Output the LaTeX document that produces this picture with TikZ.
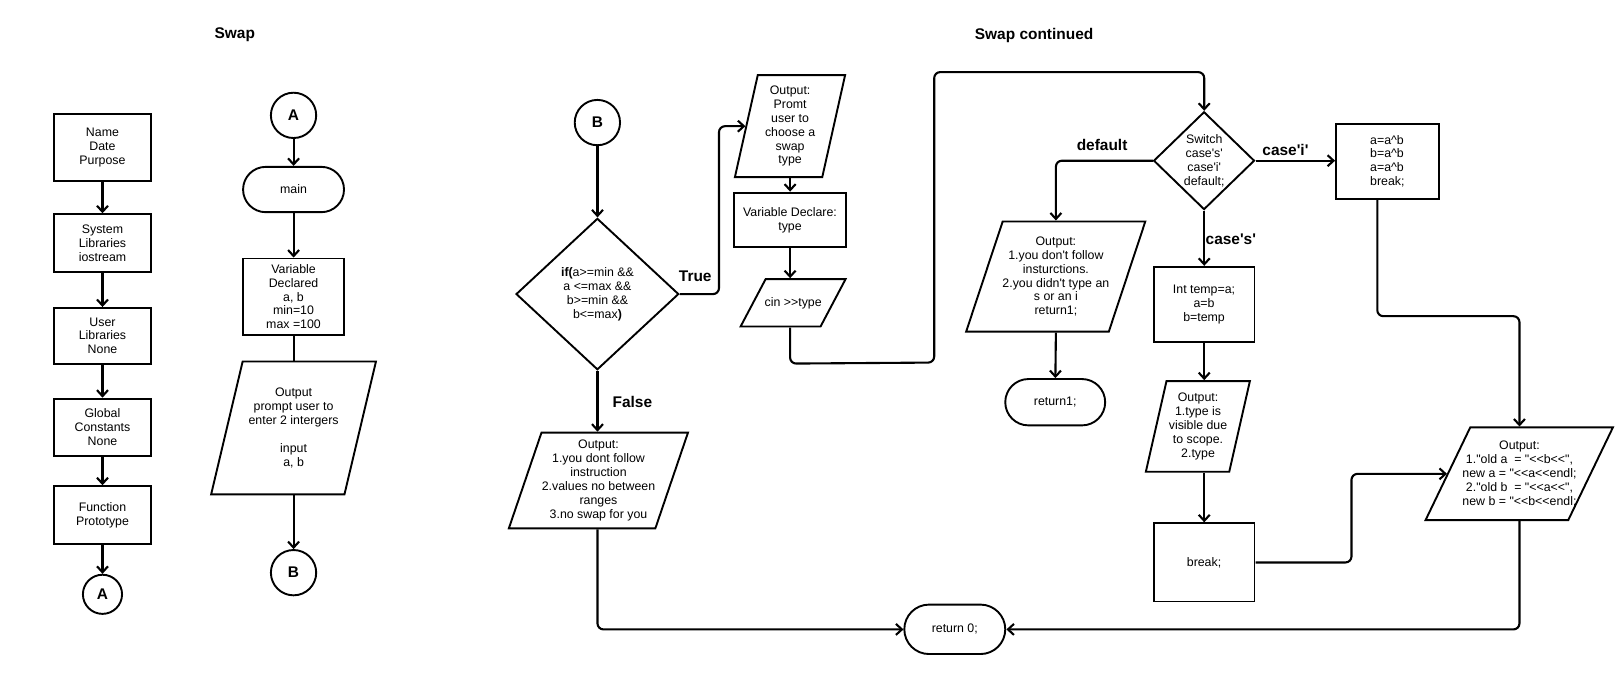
\documentclass[tikz,border=0pt]{standalone}
\usepackage{fontspec}
\newfontfamily\lsans{Liberation Sans}
\usetikzlibrary{shapes.geometric,shapes.misc,arrows.meta,calc}
\begin{document}
\begin{tikzpicture}[x=1pt,y=-1pt,scale=1.03,transform shape,
  txt/.style={font=\lsans\fontsize{12}{13.5}\selectfont, align=center, inner sep=0pt},
  lbl/.style={font=\lsans\bfseries\fontsize{15}{17}\selectfont, inner sep=0pt},
  box/.style={draw, line width=1.9pt, rectangle, inner sep=2pt, txt},
  term/.style={draw, line width=1.9pt, rounded rectangle, inner sep=2pt, txt},
  con/.style={draw, circle, line width=1.9pt, minimum size=44pt, inner sep=0pt, font=\lsans\bfseries\fontsize{15}{17}\selectfont},
  io/.style={draw, line width=1.9pt, trapezium, trapezium stretches=true, inner sep=2pt},
  dec/.style={draw, line width=1.9pt, diamond, inner sep=2pt},
  conn/.style={line width=2.1pt, rounded corners=6pt},
  arr/.style={conn, -{Straight Barb[length=6pt,width=11pt]}},
]
\useasboundingbox[fill=white] (0,0) rectangle (1568,655.3);

% ---- column 1
\node[box, minimum width=95pt, minimum height=65pt] (b1) at (99.5,143.5) {Name\\Date\\Purpose};
\node[box, minimum width=95pt, minimum height=56pt] (b2) at (99.5,236) {System\\Libraries\\iostream};
\node[box, minimum width=95pt, minimum height=54pt] (b3) at (99.5,326) {User\\Libraries\\None};
\node[box, minimum width=95pt, minimum height=56pt] (b4) at (99.5,415) {Global\\Constants\\None};
\node[box, minimum width=95pt, minimum height=56pt] (b5) at (99.5,500) {Function\\Prototype};
\node[con, minimum size=38pt] (a1) at (99.5,577) {A};

% ---- column 2
\node[lbl] (t1) at (228,34) {Swap};
\node[con] (a2) at (285,112) {A};
\node[term, minimum width=98pt, minimum height=44pt] (mn) at (285,184) {main};
\node[box, minimum width=98pt, minimum height=74pt] (vr) at (285,288) {Variable\\Declared\\a, b\\min=10\\max =100};
\node[io, trapezium left angle=72.8, trapezium right angle=107.2, minimum width=160pt, minimum height=129pt] (p1) at (285,415.5) {};
\node[txt] (p1t) at (p1) {Output\\prompt user to\\enter 2 intergers\\[13.5pt]input\\a, b};
\node[con] (bb) at (285,556) {B};

% ---- column 3
\node[lbl] (t2) at (1004,34) {Swap continued};
\node[con] (bc) at (580,119) {B};
\node[dec, minimum width=158pt, minimum height=147pt] (d1) at (580,285.5) {};
\node[txt] (d1t) at (d1) {\textbf{if(}a>=min \&\&\\a <=max \&\&\\b>=min \&\&\\b<=max\textbf{)}};
\node[io, trapezium left angle=74, trapezium right angle=106, minimum width=174pt, minimum height=93pt] (fa) at (581,466.5) {};
\node[txt] (fat) at (fa) {Output:\\1.you dont follow\\instruction\\2.values no between\\ranges\\3.no swap for you};
\node[term, minimum width=98pt, minimum height=48pt] (r0) at (927,611) {return 0;};
\node[lbl] (lt) at (675,268) {True};
\node[lbl] (lf) at (614,390) {False};

% ---- column 4
\node[io, trapezium left angle=70.5, trapezium right angle=109.5, minimum width=107pt, minimum height=99pt] (pr) at (767,122.5) {};
\node[txt] (prt) at (pr) {Output:\\Promt\\user to\\choose a\\swap\\type};
\node[box, minimum width=108pt, minimum height=53pt] (vd) at (767,213.5) {Variable Declare:\\type};
\node[io, trapezium left angle=65.5, trapezium right angle=114.5, minimum width=102pt, minimum height=46pt] (ci) at (770,294) {};
\node[txt] (cit) at (ci) {cin >>type};

% ---- column 5
\node[dec, minimum width=98pt, minimum height=95pt] (sw) at (1169,156) {};
\node[txt] (swt) at (sw) {Switch\\case's'\\case'i'\\default;};
\node[io, trapezium left angle=71, trapezium right angle=109, minimum width=174pt, minimum height=107pt] (df) at (1025,268.5) {};
\node[txt] (dft) at (df) {Output:\\1.you don't follow\\insturctions.\\2.you didn't type an\\s or an i\\return1;};
\node[term, minimum width=97pt, minimum height=45pt] (r1) at (1024.5,390.5) {return1;};
\node[box, minimum width=98pt, minimum height=73pt] (it) at (1169,295.5) {Int temp=a;\\a=b\\b=temp};
\node[io, trapezium left angle=71.8, trapezium right angle=108.2, minimum width=101pt, minimum height=88pt] (ty) at (1163,414) {};
\node[txt] (tyt) at (ty) {Output:\\1.type is\\visible due\\to scope.\\2.type};
\node[box, minimum width=98pt, minimum height=76pt] (br) at (1169,546) {break;};
\node[box, minimum width=100pt, minimum height=73pt, align=left] (xr) at (1347,156.5) {a=a\textasciicircum b\\b=a\textasciicircum b\\a=a\textasciicircum b\\break;};
\node[io, trapezium left angle=65.5, trapezium right angle=114.5, minimum width=182pt, minimum height=90pt] (fo) at (1475,460) {};
\node[txt] (fot) at (fo) {Output:\\1."old a \ = "<<b<<",\\new a = "<<a<<endl;\\2."old b \ = "<<a<<",\\new b = "<<b<<endl;};
\node[lbl] (ldf) at (1070,141) {default};
\node[lbl] (lci) at (1248,146) {case'i'};
\node[lbl] (lcs) at (1195,232) {case's'};

% ---- connectors
\draw[arr] (b1.south) -- (b2.north);
\draw[arr] (b2.south) -- (b3.north);
\draw[arr] (b3.south) -- (b4.north);
\draw[arr] (b4.south) -- (b5.north);
\draw[arr] (b5.south) -- (a1.north);
\draw[arr] (a2.south) -- (mn.north);
\draw[arr] (mn.south) -- (vr.north);
\draw[conn] (vr.south) -- (p1.north);
\draw[arr] (p1.south) -- (bb.north);
\draw[arr] (bc.south) -- (d1.north);
\draw[arr] (d1.east) -- ++(38,0) |- (pr.west);
\draw[arr] (d1.south) -- (d1.south |- fa.north);
\draw[arr] (d1.south |- fa.south) |- (r0.west);
\draw[arr] (pr.south) -- (vd.north);
\draw[arr] (vd.south) -- (vd.south |- ci.north);
\draw[arr] (vd.south |- ci.south) -- ++(0,35) -- (907,352) -- (907,70) -| (sw.north);
\draw[arr] (sw.west) -| (df.north);
\draw[arr] (df.south) -- (r1.north);
\draw[arr] (sw.south) -- (it.north);
\draw[arr] (sw.east) -- (sw.east -| xr.west);
\draw[arr] (it.south) -- (it.south |- ty.north);
\draw[arr] (it.south |- ty.south) -- (br.north);
\draw[arr] (br.east) -- ++(93,0) |- (fo.west);
\draw[arr] ([xshift=-10pt]xr.south) -- ++(0,113) -| (fo.north);
\draw[arr] (fo.south) |- (r0.east);
\end{tikzpicture}
\end{document}
